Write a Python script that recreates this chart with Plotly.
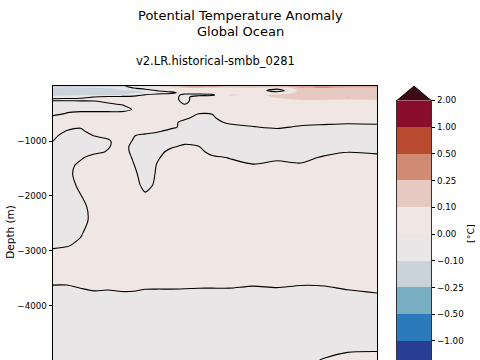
import numpy as np
import plotly.graph_objects as go

# ---------------- data ----------------
years = [1850, 1857, 1864, 1871, 1878, 1885, 1891, 1897, 1903, 1910,
         1917, 1924, 1931, 1940, 1952, 1964, 1976, 1988, 2000, 2015]
depths = [0, -40, -80, -120, -160, -200, -240, -290, -350, -420,
          -500, -580, -660, -740, -820, -900, -1000, -1100, -1200, -1300,
          -1450, -1600, -1800, -2000, -2200, -2450, -2700, -2900, -3100, -3400,
          -3600, -3800, -4100, -4500, -4750, -5000, -5400]

P = 0.05
N = -0.05
anomaly = [
    [-0.06, -0.07, -0.06, -0.06, -0.05, -0.03, 0.06, 0.08, 0.09, 0.18, 0.42, 0.60, 0.45, 0.30, 0.30, 0.35, 0.45, 0.60, 0.40, 0.35],
    [-0.14, -0.15, -0.13, -0.12, -0.11, -0.07, -0.01, 0.03, 0.04, 0.05, 0.07, 0.06, 0.07, 0.06, 0.08, 0.03, 0.16, 0.20, 0.15, 0.18],
    [-0.15, -0.15, -0.15, -0.14, -0.13, -0.12, -0.12, -0.05, 0.005, 0.03, 0.04, 0.05, 0.06, 0.07, 0.08, -0.06, 0.14, 0.16, 0.15, 0.17],
    [-0.14, -0.14, -0.13, -0.13, -0.13, -0.13, -0.12, -0.11, -0.05, -0.02, 0.03, 0.04, 0.05, 0.06, 0.06, 0.045, 0.13, 0.15, 0.14, 0.14],
    [-0.12, -0.12, -0.11, -0.11, -0.11, -0.105, -0.06, 0.01, 0.04, 0.04, -0.02, -0.03, -0.02, 0.12, 0.08, 0.12, 0.13, 0.15, 0.14, 0.13],
    [-0.08, -0.07, -0.05, 0.01, 0.04, 0.05, 0.05, 0.05, 0.05, 0.04, -0.03, 0.05, 0.05, 0.06, 0.07, 0.11, 0.12, 0.13, 0.27, 0.12],
    [0.03, 0.04, 0.05, 0.05, 0.05, 0.05, 0.05, 0.05, 0.05, 0.04, -0.03, 0.05, 0.06, 0.05, 0.06, 0.09, 0.11, 0.11, 0.105, 0.11],
    [-0.03, -0.04, -0.04, -0.03, 0.02, 0.05, 0.05, 0.05, 0.05, 0.05, -0.02, 0.05, 0.05, 0.05, 0.05, 0.06, 0.08, 0.08, 0.07, 0.08],
    [N, N, N, N, N, -0.01, P, P, P, P, 0.01, P, P, P, P, P, 0.06, 0.06, 0.06, 0.06],
    [N, N, N, N, N, N, 0.01, P, P, P, P, P, P, P, P, P, P, P, P, P],
    [N, 0.01, 0.04, 0.04, 0.04, 0.04, P, P, P, P, P, 0.002, 0.004, P, P, P, P, P, P, P],
    [0.06, P, P, P, P, P, P, P, P, P, 0.03, N, -0.02, 0.07, P, P, P, P, P, P],
    [P, P, P, P, P, P, P, P, P, P, -0.045, N, N, 0.027, P, P, 0.045, 0.04, 0.02, 0.035],
    [P, 0.03, 0.01, P, P, P, P, P, P, 0.045, N, N, N, N, -0.004, 0.03, -0.015, -0.04, -0.045, -0.045],
    [0.04, -0.005, -0.02, 0.04, P, P, P, P, 0.025, N, N, N, N, N, N, N, N, N, N, N],
    [0.03, N, N, 0.005, 0.02, P, 0.006, -0.03, -0.07, N, N, N, N, N, N, N, N, N, N, N],
    [0.002, N, N, N, -0.012, 0.045, -0.007, N, N, N, -0.045, N, N, N, N, N, N, N, N, N],
    [N, N, N, N, -0.01, P, -0.033, N, N, -0.025, 0.03, 0.004, N, N, N, N, N, N, N, N],
    [N, N, N, -0.03, 0.01, P, -0.027, N, -0.06, P, P, P, N, N, N, N, N, -0.035, -0.002, -0.026],
    [N, N, -0.02, P, P, P, -0.01, N, -0.009, 0.03, P, P, 0.03, -0.008, -0.04, -0.03, -0.04, 0.015, P, P],
    [N, N, 0.038, P, P, P, 0.005, N, 0.005, P, P, P, P, P, 0.01, 0.045, 0.02, P, P, P],
    [N, -0.03, 0.04, P, P, P, 0.024, N, 0.011, P, P, P, P, P, P, P, P, P, P, P],
    [N, N, 0.026, P, P, P, 0.04, -0.03, 0.018, P, P, P, P, P, P, P, P, P, P, P],
    [N, N, -0.005, 0.06, P, P, P, 0.016, P, P, P, P, P, P, P, P, P, P, P, P],
    [N, N, -0.04, 0.047, P, P, P, P, P, P, P, P, P, P, P, P, P, P, P, P],
    [N, N, N, 0.042, P, P, P, P, P, P, P, P, P, P, P, P, P, P, P, P],
    [N, N, -0.01, 0.07, P, P, P, P, P, P, P, P, P, P, P, P, P, P, P, P],
    [-0.03, -0.01, 0.025, P, P, P, P, P, P, P, P, P, P, P, P, P, P, P, P, P],
    [0.07, 0.065, P, P, P, P, P, P, P, P, P, P, P, P, P, P, P, P, P, P],
    [P, P, P, P, P, P, P, P, P, P, P, P, P, P, P, P, P, P, P, P],
    [0.008, 0.008, 0.04, P, P, P, P, 0.04, 0.04, 0.04, 0.04, 0.04, 0.04, 0.04, 0.02, 0.035, 0.015, 0.02, P, 0.06],
    [-0.06, -0.06, -0.06, -0.028, -0.038, -0.021, -0.024, -0.04, -0.043, -0.043, -0.049, -0.06, -0.061, -0.061, -0.075, -0.065, -0.085, -0.08, -0.041, -0.012],
    [N, N, N, N, N, N, N, N, N, N, N, N, N, N, N, N, N, N, N, -0.04],
    [N, N, N, N, N, N, N, N, N, N, N, N, N, N, N, N, N, N, N, N],
    [N, N, N, N, N, N, N, N, N, N, N, N, N, N, N, N, N, N, -0.03, -0.03],
    [N, N, N, N, N, N, N, N, N, N, N, N, N, N, N, N, -0.04, 0.01, 0.045, 0.06],
    [N, N, N, N, N, N, N, N, N, N, N, N, N, N, N, N, -0.03, 0.03, P, P],
]

levels = [-2.0, -1.0, -0.5, -0.25, -0.1, 0.0, 0.1, 0.25, 0.5, 1.0, 2.0]
level_labels = ["−2.00", "−1.00", "−0.50", "−0.25", "−0.10", "0.00",
                "0.10", "0.25", "0.50", "1.00", "2.00"]
band_colors = ["#293d95", "#2b7bbb", "#78adc2", "#cad3d9", "#e8e6e7",
               "#f0e6e3", "#e6cac2", "#d18b74", "#bb4b30", "#8b0d2c"]
under_color = "#181c43"
over_color = "#3e0a15"

depth_ticks = [-1000, -2000, -3000, -4000]
depth_ticktext = ["−1000", "−2000", "−3000", "−4000"]

title_text = "Potential Temperature Anomaly"
region_text = "Global Ocean"
run_text = "v2.LR.historical-smbb_0281"

# ---------------- geometry ----------------
W, H = 480, 360
def px(x):
    return x / W
def py(y):
    return 1 - y / H

top_px = 82.3          # pixel row of depth 0
px_per_m = 0.05567     # vertical scale of the depth axis
depth_bottom = -(H - top_px) / px_per_m

# map anomalies to level-index space (non-uniform levels)
ext_lv = [-1e3] + levels + [1e3]
ext_ix = [-1] + list(range(len(levels))) + [len(levels)]
zidx = np.interp(np.array(anomaly), ext_lv, ext_ix)

all_colors = [under_color] + band_colors + [over_color]
nC = len(all_colors)
fill_scale = [[j / (nC - 1), c] for j, c in enumerate(all_colors)]

smooth = 0.8
fig = go.Figure()
fig.add_trace(go.Contour(
    x=years, y=depths, z=zidx,
    autocontour=False,
    contours=dict(start=0, end=len(levels) - 1, size=1, coloring="fill", showlines=False),
    colorscale=fill_scale, showscale=False,
    line=dict(width=0, smoothing=smooth),
    hoverinfo="skip",
))
zero_ix = levels.index(0.0)
fig.add_trace(go.Contour(
    x=years, y=depths, z=zidx,
    autocontour=False,
    contours=dict(start=zero_ix, end=zero_ix, size=1, coloring="none"),
    line=dict(color="black", width=1.1, smoothing=smooth),
    showscale=False, hoverinfo="skip",
))

# colorbar as a heatmap on its own axes
nb = len(band_colors)
cb_scale = [[j / (nb - 1), c] for j, c in enumerate(band_colors)]
fig.add_trace(go.Heatmap(
    x=[0, 1], y=list(range(len(levels))),
    z=[[k] for k in range(nb)],
    colorscale=cb_scale, zmin=0, zmax=nb - 1, showscale=False,
    xaxis="x2", yaxis="y2", hoverinfo="skip",
))

# colorbar geometry (px)
cb_l, cb_r, cb_t = 397, 431, 96.7
band_px = 27.11
tri = 14.5
cb_bottom_val = (len(levels) - 1) - (H - cb_t) / band_px

fig.update_layout(
    width=W, height=H,
    margin=dict(l=0, r=0, t=0, b=0),
    paper_bgcolor="white", plot_bgcolor="white",
    font=dict(family="DejaVu Sans", color="black"),
    showlegend=False,
    hovermode=False,
    xaxis=dict(domain=[px(53), px(377)], range=[1850, 2015], side="top",
               showline=True, mirror=False, linecolor="black", linewidth=1,
               ticks="", showticklabels=False, showgrid=False, zeroline=False),
    yaxis=dict(domain=[0, py(top_px)], range=[depth_bottom, 0],
               tickvals=depth_ticks, ticktext=depth_ticktext,
               showline=True, mirror=True, linecolor="black", linewidth=1,
               ticks="outside", ticklen=3.5, tickcolor="black",
               showgrid=False, zeroline=False, tickfont=dict(size=8.7)),
    xaxis2=dict(domain=[px(cb_l), px(cb_r)], range=[0, 1], anchor="y2",
                showticklabels=False, ticks="", showgrid=False, zeroline=False,
                showline=False),
    yaxis2=dict(domain=[0, py(cb_t)], range=[cb_bottom_val, len(levels) - 1], anchor="x2",
                side="right", tickvals=list(range(len(levels))), ticktext=level_labels,
                ticks="outside", ticklen=3.5, tickcolor="black",
                showline=True, mirror=True, linecolor="black", linewidth=0.8,
                showgrid=False, zeroline=False, tickfont=dict(size=8.7)),
    shapes=[
        dict(type="path", xref="paper", yref="paper",
             path=f"M {px(cb_l)},{py(cb_t)} L {px((cb_l+cb_r)/2)},{py(cb_t - tri)} L {px(cb_r)},{py(cb_t)}",
             fillcolor=over_color, line=dict(color="black", width=0.8), layer="above"),
    ],
    annotations=[
        dict(text=title_text, x=px(240), y=py(11), xref="paper", yref="paper",
             xanchor="center", yanchor="middle", showarrow=False, font=dict(size=13)),
        dict(text=region_text, x=px(240), y=py(26.5), xref="paper", yref="paper",
             xanchor="center", yanchor="middle", showarrow=False, font=dict(size=13)),
        dict(text=run_text, x=px(215), y=py(57), xref="paper", yref="paper",
             xanchor="center", yanchor="middle", showarrow=False, font=dict(size=11.5)),
        dict(text="Depth (m)", x=px(10), y=py(230), xref="paper", yref="paper",
             xanchor="center", yanchor="middle", textangle=-90, showarrow=False,
             font=dict(size=10.5)),
        dict(text="[°C]", x=px(470), y=py(232.3), xref="paper", yref="paper",
             xanchor="center", yanchor="middle", textangle=-90, showarrow=False,
             font=dict(size=9.5)),
    ],
)

fig.write_html(
    "out.html",
    config={"displayModeBar": False, "staticPlot": True},
    post_script="document.body.style.margin='0px';document.documentElement.style.margin='0px';",
)
